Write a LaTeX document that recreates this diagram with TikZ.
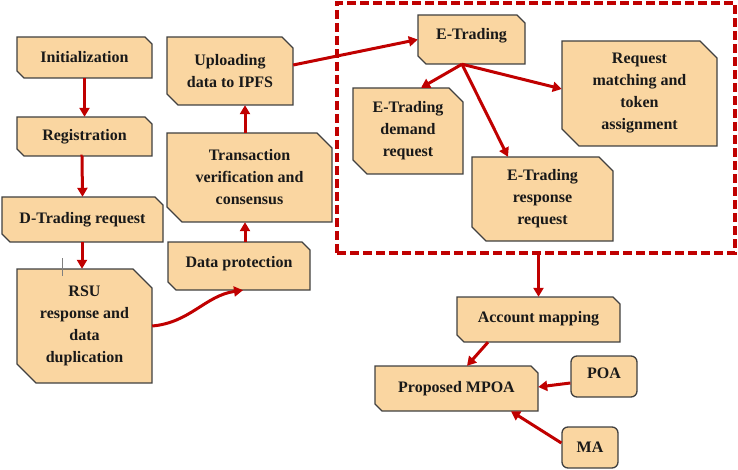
\documentclass[tikz,border=0pt]{standalone}
\usepackage{fontspec}
\setmainfont{Liberation Serif}
\usetikzlibrary{arrows.meta,calc}
\definecolor{boxfill}{HTML}{FAD6A1}
\definecolor{boxline}{HTML}{404040}
\definecolor{arrred}{HTML}{C00000}
\newcommand\snipnode[7]{%
  \filldraw[snipshape] (#2,#3) -- ({#4-#6},#3) -- (#4,{#3+#6}) -- (#4,#5) -- ({#2+#6},#5) -- (#2,{#5-#6}) -- cycle;
  \node[boxtext, minimum width={(#4-#2)*1pt}, minimum height={(#5-#3)*1pt}] (#1) at ({(#2+#4)/2},{(#3+#5)/2}) {#7};}
\begin{document}
\begin{tikzpicture}[x=1pt,y=-1pt,
  snipshape/.style={fill=boxfill, draw=boxline, line width=1.3pt, line join=miter},
  boxtext/.style={inner sep=0pt, align=center, font=\fontsize{16}{22}\selectfont\bfseries, text=black!90},
  roundbox/.style={boxtext, fill=boxfill, draw=boxline, line width=1.3pt, rounded corners=6pt},
  conn/.style={draw=arrred, line width=3pt, -{Triangle[length=9pt,width=10pt]}},
  frame/.style={draw=arrred, line width=3.2pt, dash pattern=on 9pt off 4pt, inner sep=0pt}]
\useasboundingbox (0,0) rectangle (738,470);
% dashed frame
\node[frame, minimum width=398pt, minimum height=250pt] (frm) at (536,128) {};
% left column
\snipnode{ini}{17}{37}{152}{78}{7}{Initialization}
\snipnode{reg}{17}{117}{152}{156}{7}{Registration}
\snipnode{dtr}{2}{197}{163}{242}{8}{D-Trading request}
\snipnode{rsu}{17}{269}{152}{383}{19}{RSU\\response and\\data\\duplication}
% middle column
\snipnode{dp}{168}{242}{310}{290}{8}{\raisebox{8pt}{Data protection}}
\snipnode{tvc}{167}{133}{332}{222}{15}{Transaction\\verification and\\consensus}
\snipnode{up}{167}{37}{293}{105}{11}{Uploading\\data to IPFS}
% E-Trading group
\snipnode{etr}{418}{15}{525}{64}{8}{\raisebox{12pt}{E-Trading}}
\snipnode{etd}{353}{88}{463}{174}{14}{E-Trading\\demand\\request}
\snipnode{ers}{472}{157}{613}{241}{14}{E-Trading\\response\\request}
\snipnode{rmt}{562}{41}{717}{146}{17}{Request\\matching and\\token\\assignment}
% bottom
\snipnode{acc}{457}{297}{620}{342}{7}{\raisebox{6pt}{Account mapping}}
\snipnode{mpoa}{375}{366}{538}{411}{7}{Proposed MPOA}
\node[roundbox, minimum width=66pt, minimum height=41pt] (poa) at (604,376.5) {\raisebox{6pt}{POA}};
\node[roundbox, minimum width=56pt, minimum height=41pt] (ma) at (590,447.5) {MA};
% small mark
\draw[gray, line width=1pt] (62,258) -- (62,276);
% connectors
\draw[conn] (ini.south) -- (reg.north);
\draw[conn] ([xshift=-2pt]reg.south) -- ([xshift=-0.5pt]dtr.north |- reg.south) -- (dtr.north);
\draw[conn] ([xshift=-0.5pt]dtr.south) -- ([xshift=-2.5pt]rsu.north);
\draw[conn] (rsu.east) to[out=5,in=188] ([xshift=4pt]dp.south);
\draw[conn] ([xshift=6pt]dp.north) -- ([xshift=6pt]dp.north |- tvc.south);
\draw[conn] ([xshift=-4.5pt]tvc.north) -- ([xshift=-4.5pt]tvc.north |- up.south);
\draw[conn] ([yshift=6pt]up.east) -- (etr.west);
\draw[conn] ([xshift=-9.5pt]etr.south) -- ([xshift=13pt]etd.north);
\draw[conn] ([xshift=-9.5pt]etr.south) -- ([xshift=-34.5pt]ers.north);
\draw[conn] ([xshift=-9.5pt]etr.south) -- ([yshift=4.5pt]rmt.west);
\draw[conn] (frm.south -| acc.north) -- (acc.north);
\draw[conn] ([xshift=-50.5pt]acc.south) -- ([xshift=10.5pt]mpoa.north);
\draw[conn] ([yshift=-6.5pt]poa.west) -- ([yshift=1.5pt]mpoa.east);
\draw[conn] ([yshift=4.5pt]ma.west) -- ([xshift=54.5pt]mpoa.south);
\end{tikzpicture}
\end{document}
